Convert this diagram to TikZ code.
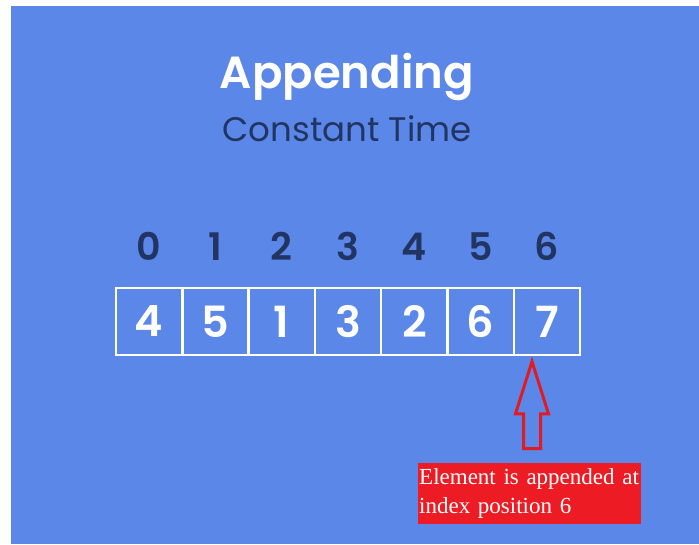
\documentclass[tikz,border=0pt]{standalone}
\usepackage{fontspec}
\setmainfont{Poppins}
\newfontfamily\medfont{Poppins Medium}
\newfontfamily\semifont{Poppins SemiBold}
\newfontfamily\notefont{Liberation Serif}
\usetikzlibrary{shapes.arrows}
\definecolor{slideblue}{RGB}{91,136,232}
\definecolor{inkblue}{RGB}{33,52,98}
\definecolor{noteRed}{RGB}{237,28,36}
\begin{document}
\begin{tikzpicture}[x=1pt, y=-1pt,
  cell/.style={draw=white, line width=2.5pt, minimum width=66.3pt, minimum height=67pt,
    inner sep=0pt, text=white, font=\semifont\fontsize{43}{43}\selectfont},
  idx/.style={text=inkblue, inner sep=0pt, anchor=base, font=\semifont\fontsize{38}{38}\selectfont}]
\useasboundingbox (0,0) rectangle (699,544);
\fill[slideblue] (11,6) rectangle (699,544);

\node[text=white, anchor=base, font=\semifont\fontsize{45}{45}\selectfont] (title) at (347,88) {Appending};
\node[text=inkblue, anchor=base, font=\fontsize{34}{34}\selectfont] (sub) at (347,141) {Constant Time};

% the array and its indices
\foreach \v [count=\i from 0] in {4,5,1,3,2,6,7} {
  \node[cell] (c\i) at (149.15+66.3*\i,321.5) {\v};
  \node[idx] (i\i) at (149.15+66.3*\i,260) {\i};
}

\node[anchor=north west, fill=noteRed, text=white, text width=221pt, inner sep=1pt,
  minimum height=61pt, align=left, font=\notefont\fontsize{23}{29}\selectfont] (note) at (418,463)
  {Element is appended at\\index position 6};

\node[single arrow, draw=noteRed!95!black, line width=3pt, shape border rotate=90, inner sep=7pt,
  minimum height=87pt, single arrow head extend=8pt, single arrow tip angle=35,
  anchor=tail] (arw) at (532,450) {};
\end{tikzpicture}
\end{document}
